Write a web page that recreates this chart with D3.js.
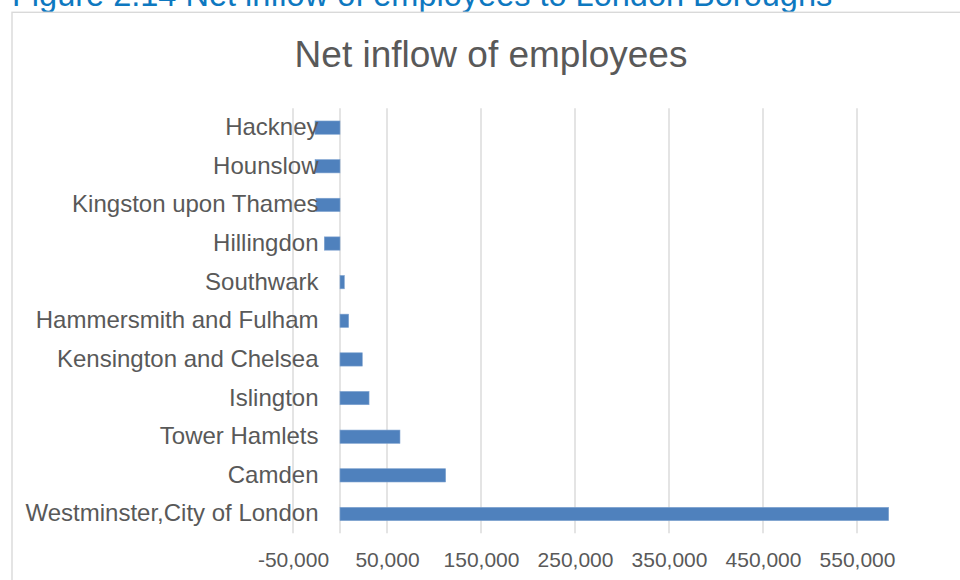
<!DOCTYPE html>
<html>
<head>
<meta charset="utf-8">
<script src="https://cdn.jsdelivr.net/npm/d3@7"></script>
<style>
  html, body { margin: 0; padding: 0; background: #ffffff; }
  svg { display: block; font-family: Arial, "Liberation Sans", sans-serif; }
</style>
</head>
<body>
<svg id="chart" width="960" height="580"></svg>
<script>
// Boroughs, listed top to bottom as drawn
const boroughs = [
  "Hackney",
  "Hounslow",
  "Kingston upon Thames",
  "Hillingdon",
  "Southwark",
  "Hammersmith and Fulham",
  "Kensington and Chelsea",
  "Islington",
  "Tower Hamlets",
  "Camden",
  "Westminster,City of London"
];

// Net inflow of employees for each borough
const netInflow = [
  -26600,
  -26500,
  -25500,
  -16700,
  4600,
  9200,
  23700,
  30900,
  63800,
  112400,
  583700
];

// Value axis ticks
const tickValues = [-50000, 50000, 150000, 250000, 350000, 450000, 550000];

const figureCaption = "Figure 2.14 Net inflow of employees to London Boroughs";
const chartTitle = "Net inflow of employees";

const svg = d3.select("#chart");
const textColor = "#595959";
const gridColor = "#d9d9d9";
const barColor = "#4f81bd";

const plot = { left: 293, right: 904, top: 108.3, bottom: 533.3 };

const x = d3.scaleLinear()
  .domain([-50000, 600000])
  .range([plot.left, plot.right]);

const pad = 0.656;
const y = d3.scaleBand()
  .domain(boroughs)
  .range([plot.top, plot.bottom])
  .paddingInner(pad)
  .paddingOuter(pad / 2);

// Figure caption (runs off the top of the page)
svg.append("text")
  .attr("x", 12)
  .attr("y", 6)
  .attr("font-size", 32.5)
  .attr("fill", "#0e78c0")
  .text(figureCaption);

// Chart frame
svg.append("rect")
  .attr("x", 12)
  .attr("y", 12.3)
  .attr("width", 1000)
  .attr("height", 700)
  .attr("fill", "none")
  .attr("stroke", gridColor)
  .attr("stroke-width", 1.4);

// Chart title
svg.append("text")
  .attr("x", 491)
  .attr("y", 67)
  .attr("text-anchor", "middle")
  .attr("font-size", 37)
  .attr("fill", textColor)
  .text(chartTitle);

// Vertical gridlines
svg.append("g")
  .selectAll("line")
  .data(tickValues)
  .join("line")
  .attr("x1", d => x(d))
  .attr("x2", d => x(d))
  .attr("y1", plot.top)
  .attr("y2", plot.bottom)
  .attr("stroke", gridColor)
  .attr("stroke-width", 1.4);

// Category axis line at zero
svg.append("line")
  .attr("x1", x(0))
  .attr("x2", x(0))
  .attr("y1", plot.top)
  .attr("y2", plot.bottom)
  .attr("stroke", gridColor)
  .attr("stroke-width", 1.4);

// Value axis tick labels (plain hyphen for negatives)
const fmt = d3.formatLocale({ decimal: ".", thousands: ",", grouping: [3], currency: ["", ""], minus: "-" }).format(",");
const xAxis = d3.axisBottom(x)
  .tickValues(tickValues)
  .tickFormat(d => fmt(d))
  .tickSize(0)
  .tickPadding(0);
const xg = svg.append("g")
  .attr("transform", `translate(0,${plot.bottom})`)
  .call(xAxis);
xg.select(".domain").remove();
xg.selectAll("text")
  .attr("font-size", 21)
  .attr("font-family", 'Arial, "Liberation Sans", sans-serif')
  .attr("fill", textColor)
  .attr("dy", null)
  .attr("y", 33.4);

// Bars
svg.append("g")
  .selectAll("rect")
  .data(boroughs.map((b, i) => ({ name: b, value: netInflow[i] })))
  .join("rect")
  .attr("x", d => Math.min(x(0), x(d.value)))
  .attr("width", d => Math.abs(x(d.value) - x(0)))
  .attr("y", d => y(d.name))
  .attr("height", y.bandwidth())
  .attr("fill", barColor)
  .attr("stroke", "#7fa3d0")
  .attr("stroke-width", 0.6);

// Category labels
svg.append("g")
  .selectAll("text")
  .data(boroughs)
  .join("text")
  .attr("x", 318.5)
  .attr("y", d => y(d) + y.bandwidth() / 2)
  .attr("dy", "0.31em")
  .attr("text-anchor", "end")
  .attr("font-size", 24)
  .attr("fill", textColor)
  .text(d => d);
</script>
</body>
</html>
